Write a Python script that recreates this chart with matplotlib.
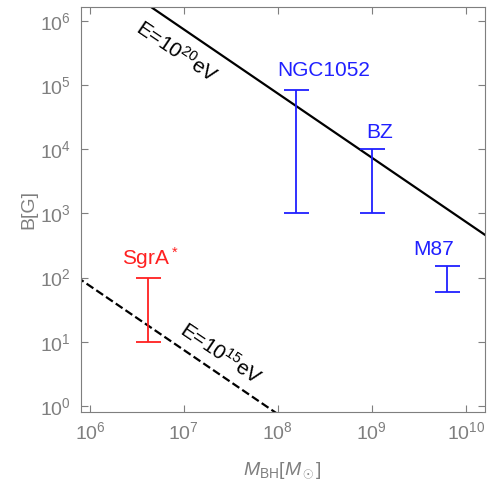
import numpy as np
import matplotlib
matplotlib.use("Agg")
import matplotlib.pyplot as plt

plt.rcParams['font.family'] = ['Liberation Sans', 'DejaVu Sans']
plt.rcParams['mathtext.fontset'] = 'custom'
plt.rcParams['mathtext.rm'] = 'Liberation Sans'
plt.rcParams['mathtext.it'] = 'Liberation Sans:italic'

# --- data --------------------------------------------------------------------
names = ["SgrA$^*$", "NGC1052", "BZ", "M87"]
mass = [4.1e6, 1.55e8, 1.0e9, 6.3e9]
b_low = [10, 1e3, 1e3, 60]
b_high = [100, 8.3e4, 1e4, 150]
colors = ["#ff2020", "#2020ff", "#2020ff", "#2020ff"]

# B*M constants for the two energy lines, B = C / M
line_const = [10**12.87, 10**7.87]
line_label = [r"E=10$^{20}$eV", r"E=10$^{15}$eV"]
line_style = ["-", "--"]

gray = "#7f7f7f"

# --- plot ----------------------------------------------------------------------
fig = plt.figure(figsize=(4.87, 4.84), dpi=100)
ax = fig.add_axes([0.166, 0.149, 0.830, 0.8365])
ax.set_xscale("log")
ax.set_yscale("log")
ax.set_xlim(8.0e5, 1.6e10)
ax.set_ylim(10**-0.094, 10**6.22)

M = np.logspace(5, 11, 200)
for c, ls in zip(line_const, line_style):
    ax.plot(M, c / M, color="black", ls=ls, lw=1.6)

# label positions (data coords) for the energy lines
ax.text(8.5e6, 3.3e5, line_label[0], rotation=-34, fontsize=15,
        ha="center", va="center")
ax.text(2.5e7, 6.5, line_label[1], rotation=-34, fontsize=15,
        ha="center", va="center")

for name, m, lo, hi, col in zip(names, mass, b_low, b_high, colors):
    mid = np.sqrt(lo * hi)
    ax.errorbar([m], [mid], yerr=[[mid - lo], [hi - mid]],
                fmt="none", ecolor=col, elinewidth=1.3, capsize=9,
                capthick=1.3)

label_pos = [(4.4e6, 205), (3.1e8, 1.7e5), (1.2e9, 1.85e4), (4.5e9, 275)]
for name, (lx, ly), col in zip(names, label_pos, colors):
    ax.text(lx, ly, name, color=col, fontsize=15, ha="center", va="center")

ax.minorticks_off()
ax.tick_params(which="both", direction="in", top=True, right=True,
               length=5, color=gray, labelcolor=gray, labelsize=14, pad=7)
ax.set_xticks([1e6, 1e7, 1e8, 1e9, 1e10])
ax.set_yticks([1e0, 1e1, 1e2, 1e3, 1e4, 1e5, 1e6])
for s in ax.spines.values():
    s.set_color(gray)

ax.set_xlabel(r"$M_{\rm BH}[M_\odot]$", color=gray, fontsize=14, labelpad=12)
ax.set_ylabel("B[G]", color=gray, fontsize=14, labelpad=2)

fig.savefig("out.png", dpi=100)
